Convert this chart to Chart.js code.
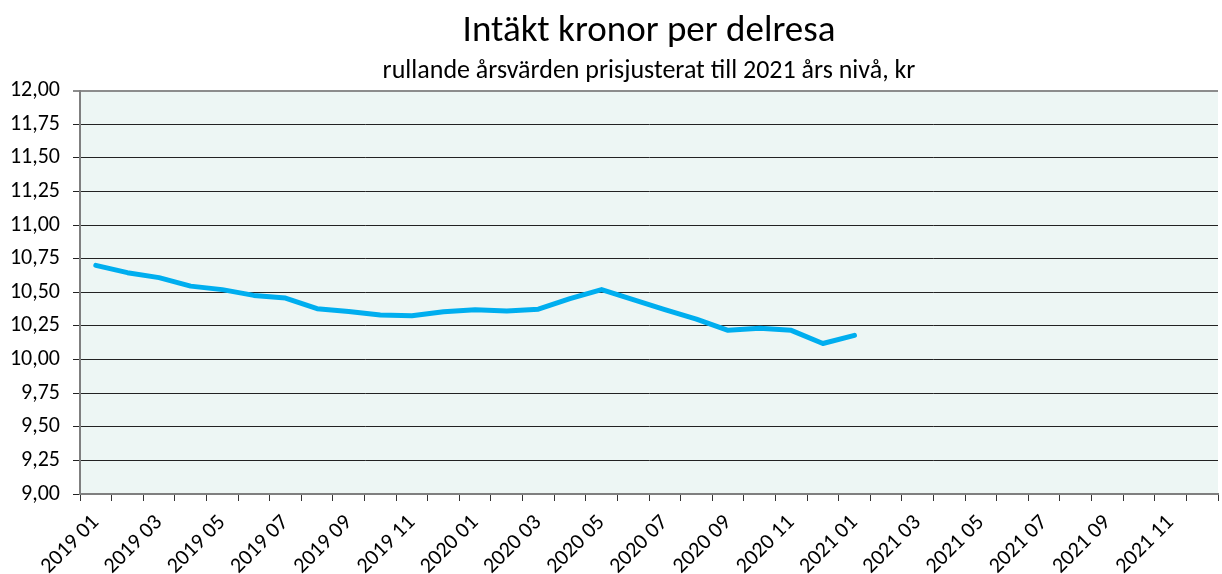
<!DOCTYPE html>
<html>
<head>
<meta charset="utf-8">
<script src="https://cdn.jsdelivr.net/npm/chart.js@4/dist/chart.umd.min.js"></script>
<style>
html,body{margin:0;padding:0;background:#fff;}
#wrap{width:1222px;height:574px;}
</style>
</head>
<body>
<div id="wrap"><canvas id="c" width="1222" height="574"></canvas></div>
<script>
const months = ["2019 01","2019 02","2019 03","2019 04","2019 05","2019 06","2019 07","2019 08","2019 09","2019 10","2019 11","2019 12",
  "2020 01","2020 02","2020 03","2020 04","2020 05","2020 06","2020 07","2020 08","2020 09","2020 10","2020 11","2020 12",
  "2021 01","2021 02","2021 03","2021 04","2021 05","2021 06","2021 07","2021 08","2021 09","2021 10","2021 11","2021 12"];
const revenuePerTrip = [10.70,10.646,10.609,10.546,10.52,10.477,10.457,10.378,10.358,10.331,10.326,10.356,
  10.37,10.361,10.374,10.453,10.52,10.446,10.371,10.30,10.217,10.232,10.217,10.119,10.18];
const yMin = 9, yMax = 12, yStep = 0.25;
const titleText = "Intäkt kronor per delresa";
const subtitleText = "rullande årsvärden prisjusterat till 2021 års nivå, kr";

const FONT = "Carlito, Lato, sans-serif";

const plotBg = {
  id: 'plotBg',
  beforeDraw(chart) {
    const a = chart.chartArea, ctx = chart.ctx;
    ctx.save();
    ctx.fillStyle = '#EDF6F4';
    ctx.fillRect(a.left, a.top, a.right - a.left, a.bottom - a.top);
    ctx.restore();
  }
};

new Chart(document.getElementById('c'), {
  type: 'line',
  data: {
    labels: months,
    datasets: [{
      data: revenuePerTrip,
      borderColor: '#00AEEF',
      borderWidth: 5,
      pointRadius: 0,
      tension: 0,
      fill: false,
      borderCapStyle: 'round',
      borderJoinStyle: 'round'
    }]
  },
  options: {
    responsive: false,
    devicePixelRatio: 1,
    animation: false,
    layout: { padding: { left: 0, right: 4, top: 0, bottom: 0 } },
    plugins: {
      legend: { display: false },
      tooltip: { enabled: false },
      title: {
        display: true, text: titleText, fullSize: false, color: '#000',
        font: { family: FONT, size: 37, weight: 'normal', lineHeight: 1.2 },
        padding: { top: 10, bottom: 1 }
      },
      subtitle: {
        display: true, text: subtitleText, fullSize: false, color: '#000',
        font: { family: FONT, size: 26, weight: 'normal', lineHeight: 1.2 },
        padding: { top: 0, bottom: 4 }
      }
    },
    scales: {
      x: {
        type: 'category',
        offset: true,
        afterFit(s) { s.height = 80; s.paddingLeft = 0; s.paddingRight = 0; },
        grid: { display: true, offset: true, drawOnChartArea: false, drawTicks: true, tickLength: 7, color: '#333', lineWidth: 1 },
        border: { display: true, color: '#7f7f7f', width: 2 },
        ticks: {
          autoSkip: false, maxRotation: 45, minRotation: 45, padding: 9,
          color: '#000', font: { family: FONT, size: 22 },
          callback(v, i) { return i % 2 === 0 ? months[i] : ''; }
        }
      },
      y: {
        min: yMin, max: yMax,
        afterFit(s) { s.width = 80; s.paddingTop = 0; s.paddingBottom = 0; },
        grid: {
          color: (c) => (c.tick && c.tick.value === yMax) ? '#8c8c8c' : '#222',
          lineWidth: (c) => (c.tick && c.tick.value === yMax) ? 2 : 1,
          tickLength: 7, drawTicks: true
        },
        border: { display: true, color: '#7f7f7f', width: 2 },
        ticks: {
          stepSize: yStep, padding: 13, color: '#000',
          font: { family: FONT, size: 22 },
          callback(v) { return v.toFixed(2).replace('.', ','); }
        }
      }
    }
  },
  plugins: [plotBg]
});
</script>
</body>
</html>
